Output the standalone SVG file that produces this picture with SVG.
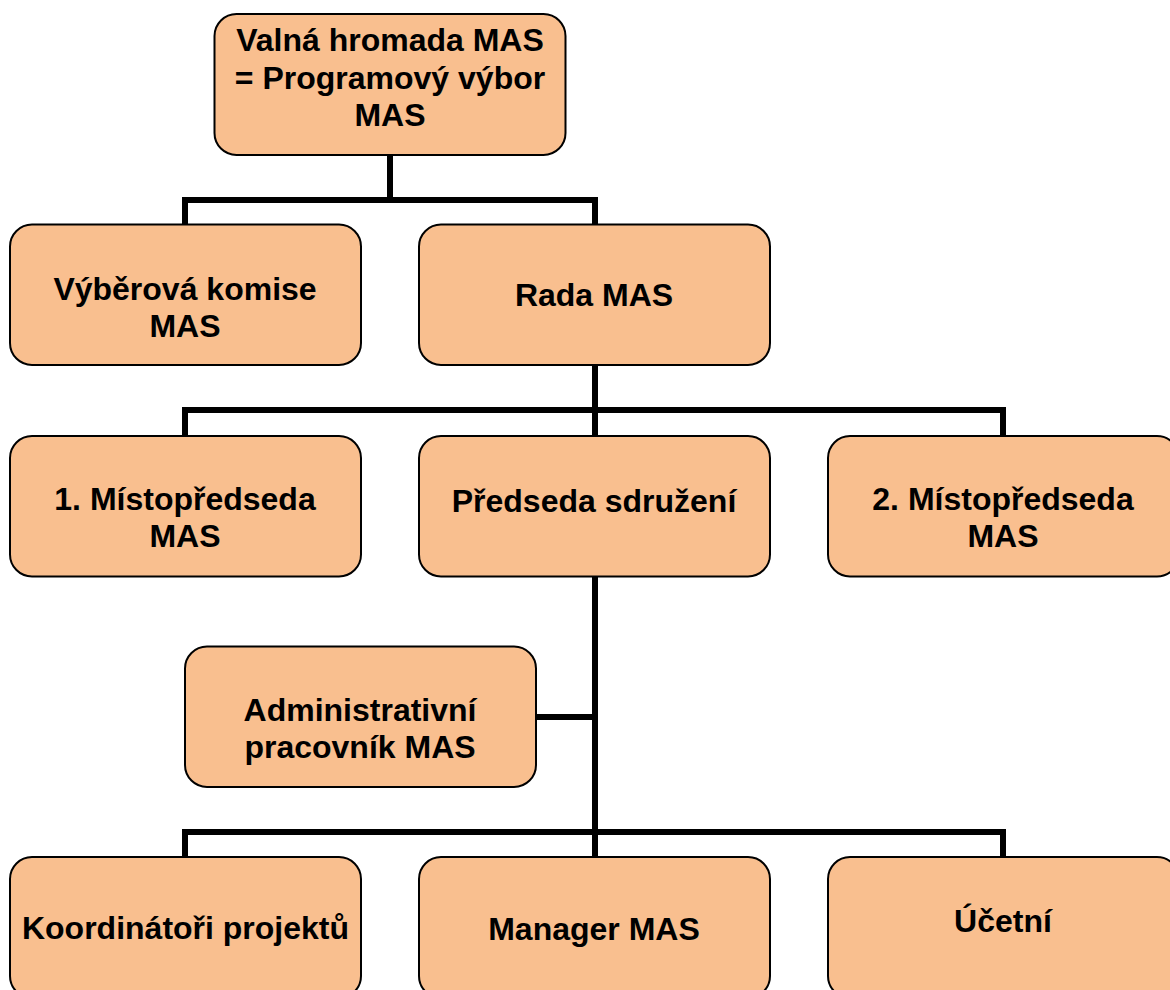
<svg xmlns="http://www.w3.org/2000/svg" width="1170" height="990" viewBox="0 0 1170 990">
<style>
.box{fill:#F9BF8F;stroke:#000;stroke-width:2}
.lbl{font-family:"Liberation Sans",Arial,sans-serif;font-weight:bold;font-size:32px;fill:#000;text-anchor:middle}
.conn{fill:none;stroke:#000;stroke-width:6;stroke-linejoin:miter;stroke-linecap:butt}
</style>
<rect width="1170" height="990" fill="#fff"/>
<g id="connectors">
<path class="conn" d="M390,155 V200 M185,225 V200 H595 V225"/>
<path class="conn" d="M595,365 V436 M185,436 V410 H1003 V436"/>
<path class="conn" d="M595,576 V857 M536,717 H595 M185,857 V832 H1003 V857"/>
</g>
<g id="valna">
<rect class="box" x="214.5" y="14" width="351" height="141" rx="22"/>
<text class="lbl" x="390" y="51">Valná hromada MAS</text>
<text class="lbl" x="390" y="88.5">= Programový výbor</text>
<text class="lbl" x="390" y="126">MAS</text>
</g>
<g id="vyberova">
<rect class="box" x="10" y="224.5" width="351" height="140.5" rx="22"/>
<text class="lbl" x="185" y="299.5">Výběrová komise</text>
<text class="lbl" x="185" y="337">MAS</text>
</g>
<g id="rada">
<rect class="box" x="419" y="224.5" width="351" height="140.5" rx="22"/>
<text class="lbl" x="594" y="306">Rada MAS</text>
</g>
<g id="mistopredseda1">
<rect class="box" x="10" y="436" width="351" height="140.5" rx="22"/>
<text class="lbl" x="185" y="509.5">1. Místopředseda</text>
<text class="lbl" x="185" y="547">MAS</text>
</g>
<g id="predseda">
<rect class="box" x="419" y="436" width="351" height="140.5" rx="22"/>
<text class="lbl" x="594" y="512">Předseda sdružení</text>
</g>
<g id="mistopredseda2">
<rect class="box" x="828" y="436" width="351" height="140.5" rx="22"/>
<text class="lbl" x="1003" y="510">2. Místopředseda</text>
<text class="lbl" x="1003" y="547">MAS</text>
</g>
<g id="administrativni">
<rect class="box" x="185" y="646.5" width="351" height="140.5" rx="22"/>
<text class="lbl" x="360" y="721">Administrativní</text>
<text class="lbl" x="360" y="758">pracovník MAS</text>
</g>
<g id="koordinatori">
<rect class="box" x="10" y="857" width="351" height="141" rx="22"/>
<text class="lbl" x="185.5" y="939">Koordinátoři projektů</text>
</g>
<g id="manager">
<rect class="box" x="419" y="857" width="351" height="141" rx="22"/>
<text class="lbl" x="594" y="940">Manager MAS</text>
</g>
<g id="ucetni">
<rect class="box" x="828" y="857" width="351" height="141" rx="22"/>
<text class="lbl" x="1003" y="932">Účetní</text>
</g>
</svg>
